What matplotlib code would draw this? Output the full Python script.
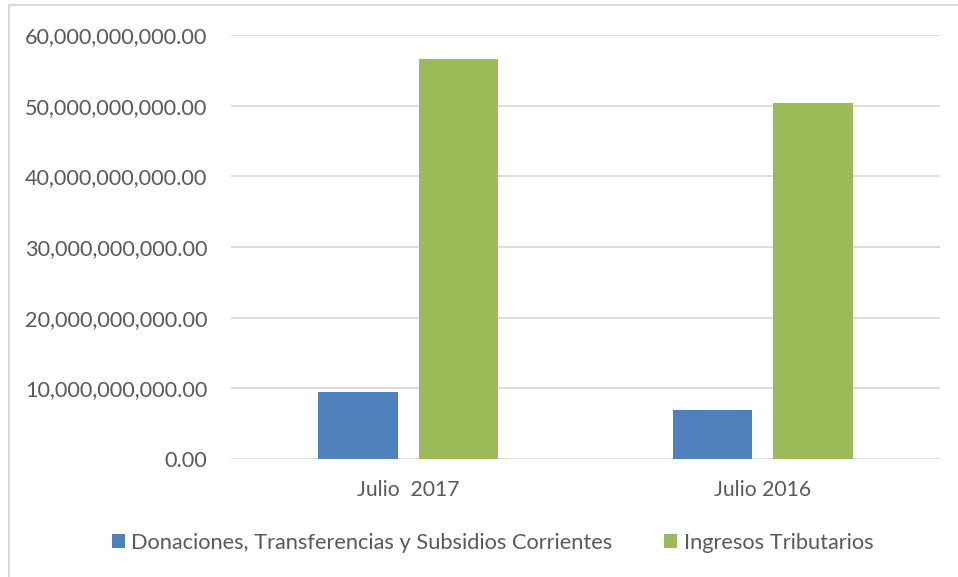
import matplotlib.pyplot as plt
from matplotlib.patches import Rectangle
from matplotlib.ticker import FuncFormatter, MultipleLocator

categories = ["Julio  2017", "Julio 2016"]
series_names = ["Donaciones, Transferencias y Subsidios Corrientes", "Ingresos Tributarios"]
donaciones = [9.45e9, 6.9e9]
tributarios = [56.6e9, 50.4e9]

blue = "#4F81BD"
green = "#9BBB59"
txt = "#595959"
grid = "#D9D9D9"

plt.rcParams["font.family"] = ["Lato", "DejaVu Sans"]

W, H = 958, 577
fig = plt.figure(figsize=(W / 100, H / 100), dpi=100)
ax = fig.add_axes([231 / W, (H - 459) / H, (940 - 231) / W, (459 - 35) / H])

x = range(len(categories))
bw = 0.224
off = 0.1418
ax.bar([i - off for i in x], donaciones, bw, color=blue, label=series_names[0], zorder=3)
ax.bar([i + off for i in x], tributarios, bw, color=green, label=series_names[1], zorder=3)

ax.set_xlim(-0.5, 1.5)
ax.set_ylim(0, 60e9)
ax.yaxis.set_major_locator(MultipleLocator(10e9))
ax.yaxis.set_major_formatter(FuncFormatter(lambda v, p: f"{v:,.2f}"))
ax.set_xticks(list(x))
ax.set_xticklabels(categories)
ax.grid(axis="y", color=grid, linewidth=1.3, zorder=0)
for s in ax.spines.values():
    s.set_visible(False)
ax.tick_params(axis="both", length=0, colors=txt)
ax.tick_params(axis="y", pad=17, labelsize=15.6)
ax.tick_params(axis="x", pad=15, labelsize=15.2)

# chart area border
fig.patches.append(Rectangle((9 / W, -0.1), 1.2, (H - 5) / H + 0.1, transform=fig.transFigure,
                             fill=False, edgecolor=grid, linewidth=1.5))

fig.legend(loc="center", bbox_to_anchor=(492.5 / W, (H - 543) / H), ncol=2, frameon=False,
           fontsize=15.7, labelcolor=txt, handlelength=0.6, handleheight=0.6,
           handletextpad=0.3, columnspacing=2.35)

fig.savefig("out.png", dpi=100)
